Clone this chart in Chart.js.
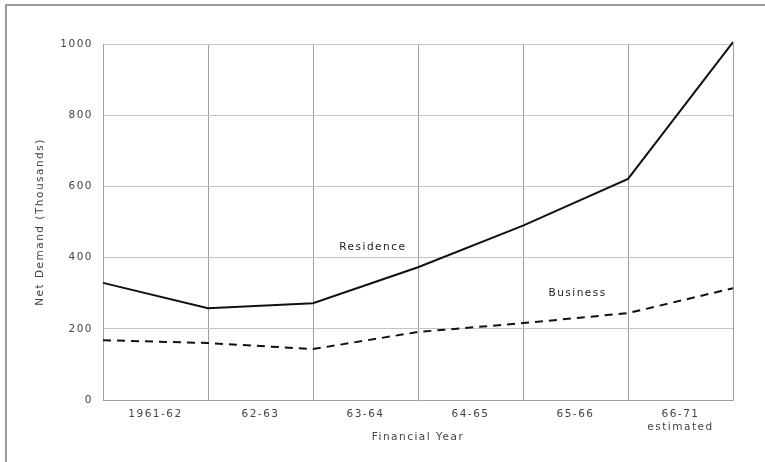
<!DOCTYPE html>
<html>
<head>
<meta charset="utf-8">
<script src="https://cdn.jsdelivr.net/npm/chart.js@4/dist/chart.umd.min.js"></script>
<style>
  html, body { margin: 0; padding: 0; background: #fff; }
  #frame { position: absolute; left: 5px; top: 4px; width: 760px; height: 458px;
           border-left: 2px solid #9a9a9a; border-top: 2px solid #9a9a9a; }
  #wrap { position: absolute; left: 0; top: 0; width: 765px; height: 462px; }
</style>
</head>
<body>
<div id="frame"></div>
<div id="wrap"><canvas id="chart"></canvas></div>
<script>
// financial years (labels sit between the grid lines)
const years = ['1961-62', '62-63', '63-64', '64-65', '65-66', ['66-71', 'estimated']]
// values at the year boundaries, thousands
const residence = [329, 258, 272, 373, 490, 621, 1005]
const business = [168, 160, 143, 191, 216, 244, 314]
const yTicks = [0, 200, 400, 600, 800, 1000]

const toPoints = (arr) => arr.map((v, i) => ({ x: i, y: v }))

const font = { family: 'DejaVu Sans', size: 10.5 }
const ink = '#444'

// line names written on the plot
const lineNames = {
  id: 'lineNames',
  beforeDraw(chart) {
    chart.ctx.letterSpacing = '1.5px'
  },
  afterDatasetsDraw(chart) {
    const { ctx, scales } = chart
    ctx.save()
    ctx.letterSpacing = '1.5px'
    ctx.font = '10.5px DejaVu Sans'
    ctx.fillStyle = '#222'
    ctx.textAlign = 'center'
    ctx.textBaseline = 'middle'
    ctx.fillText('Residence', scales.x.getPixelForValue(2.57), scales.y.getPixelForValue(430))
    ctx.fillText('Business', scales.x.getPixelForValue(4.52), scales.y.getPixelForValue(300))
    ctx.restore()
  }
}

new Chart(document.getElementById('chart'), {
  type: 'line',
  data: {
    datasets: [
      {
        label: 'Residence',
        data: toPoints(residence),
        borderColor: '#111',
        borderWidth: 2,
        pointRadius: 0,
        tension: 0,
        clip: false,
      },
      {
        label: 'Business',
        data: toPoints(business),
        borderColor: '#111',
        borderWidth: 2,
        borderDash: [8, 6],
        pointRadius: 0,
        tension: 0,
      },
    ],
  },
  options: {
    responsive: true,
    maintainAspectRatio: false,
    animation: false,
    layout: { padding: { left: 28, right: 32, top: 44, bottom: 0 } },
    plugins: { legend: { display: false }, tooltip: { enabled: false } },
    scales: {
      x: {
        type: 'linear',
        position: 'bottom',
        min: 0,
        max: 6,
        ticks: { display: false, stepSize: 1 },
        grid: { color: '#a0a0a0', drawTicks: false },
        border: { color: '#a0a0a0' },
        afterFit: (s) => { s.height = 0 },
      },
      xLabels: {
        type: 'category',
        position: 'bottom',
        labels: years,
        offset: true,
        grid: { display: false, drawTicks: false },
        border: { display: false },
        ticks: { color: ink, font, padding: 8, maxRotation: 0, autoSkip: false },
        title: { display: true, text: 'Financial Year', color: ink, font, padding: { top: 0, bottom: 18 } },
        afterFit: (s) => { s.height = 62 },
      },
      y: {
        min: 0,
        max: 1000,
        afterBuildTicks: (s) => { s.ticks = yTicks.map((v) => ({ value: v })) },
        ticks: { color: ink, font, padding: 10, callback: (v) => String(v) },
        grid: { color: '#c4c4c4', drawTicks: false },
        border: { color: '#a0a0a0' },
        title: { display: true, text: 'Net Demand (Thousands)', color: ink, font, padding: { top: 6, bottom: 0 } },
        afterFit: (s) => { s.width = 75 },
      },
    },
  },
  plugins: [lineNames],
})
</script>
</body>
</html>
